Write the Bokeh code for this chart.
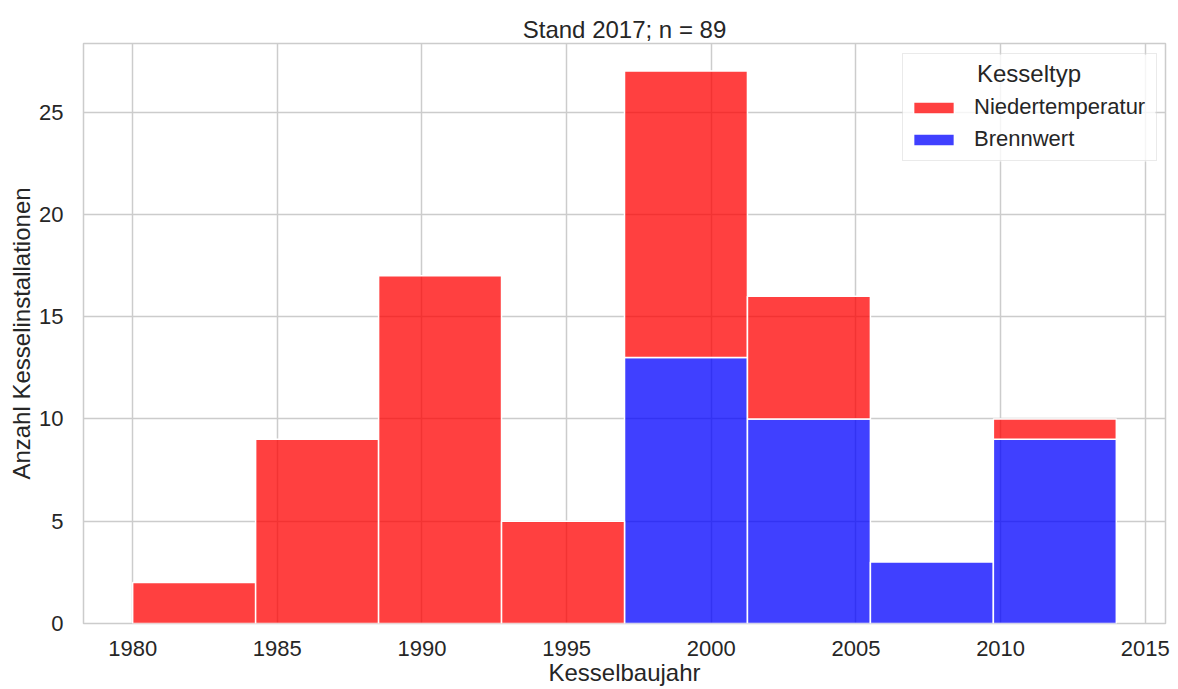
from bokeh.plotting import figure
from bokeh.models import (Range1d, FixedTicker, Legend, LegendItem, ColumnDataSource, Label,
                          BoxAnnotation)
from bokeh.embed import file_html
from bokeh.resources import INLINE

# ---- data ----
bin_edges = [1980.0, 1984.25, 1988.5, 1992.75, 1997.0, 2001.25, 2005.5, 2009.75, 2014.0]
niedertemperatur = [2, 9, 17, 5, 14, 6, 0, 1]
brennwert = [0, 0, 0, 0, 13, 10, 3, 9]
series_names = ["Niedertemperatur", "Brennwert"]
x_ticks = [1980, 1985, 1990, 1995, 2000, 2005, 2010, 2015]
y_ticks = [0, 5, 10, 15, 20, 25]
title_text = "Stand 2017; n = 89"
x_label = "Kesselbaujahr"
y_label = "Anzahl Kesselinstallationen"
legend_title = "Kesseltyp"

FONT = "Liberation Sans"
TXT = "#262626"
GRID = "#cccccc"
RED = "#ff0000"
BLUE = "#0000ff"

W, H = 1170, 689
BL, BR, BT, BB = 83, 5, 43, 66
FW, FH = W - BL - BR, H - BT - BB

span = bin_edges[-1] - bin_edges[0]
totals = [a + b for a, b in zip(niedertemperatur, brennwert)]
x0, x1 = bin_edges[0] - 0.05 * span, bin_edges[-1] + 0.05 * span
y0, y1 = 0, max(totals) * 1.05


def px_to_x(px):
    return x0 + px / FW * (x1 - x0)


def px_to_y(py):
    return y0 + py / FH * (y1 - y0)


p = figure(width=W, height=H, x_range=Range1d(x0, x1), y_range=Range1d(y0, y1),
           output_backend="svg", toolbar_location=None,
           min_border_left=BL, min_border_right=BR, min_border_top=BT, min_border_bottom=BB)

# stacked: Brennwert at bottom, Niedertemperatur on top
bw = dict(left=[], right=[], bottom=[], top=[])
nt = dict(left=[], right=[], bottom=[], top=[])
for l, r, a, b in zip(bin_edges[:-1], bin_edges[1:], niedertemperatur, brennwert):
    if b > 0:
        bw["left"].append(l); bw["right"].append(r); bw["bottom"].append(0); bw["top"].append(b)
    if a > 0:
        nt["left"].append(l); nt["right"].append(r); nt["bottom"].append(b); nt["top"].append(a + b)

r_bw = p.quad(left="left", right="right", bottom="bottom", top="top", source=ColumnDataSource(bw),
              fill_color=BLUE, fill_alpha=0.75, line_color="white", line_width=1.5)
r_nt = p.quad(left="left", right="right", bottom="bottom", top="top", source=ColumnDataSource(nt),
              fill_color=RED, fill_alpha=0.75, line_color="white", line_width=1.5)

# title
p.title.text = title_text
p.title.align = "center"
p.title.text_font = FONT
p.title.text_font_size = "24px"
p.title.text_font_style = "normal"
p.title.text_color = TXT
p.title.standoff = 1

# axes
p.xaxis.ticker = FixedTicker(ticks=x_ticks)
p.yaxis.ticker = FixedTicker(ticks=y_ticks)
p.xaxis.axis_label = x_label
p.yaxis.axis_label = y_label
for ax in (p.xaxis, p.yaxis):
    ax.axis_line_color = None
    ax.major_tick_line_color = None
    ax.minor_tick_line_color = None
    ax.major_tick_out = 0
    ax.major_tick_in = 0
    ax.minor_tick_out = 0
    ax.minor_tick_in = 0
    ax.major_label_text_font = FONT
    ax.major_label_text_font_size = "22px"
    ax.major_label_text_color = TXT
    ax.axis_label_text_font = FONT
    ax.axis_label_text_font_size = "24px"
    ax.axis_label_text_font_style = "normal"
    ax.axis_label_text_color = TXT
p.xaxis.major_label_standoff = 17
p.xaxis.axis_label_standoff = 0
p.yaxis.major_label_standoff = 20
p.yaxis.axis_label_standoff = 1

# grid / frame
p.xgrid.ticker = FixedTicker(ticks=x_ticks)
p.ygrid.ticker = FixedTicker(ticks=y_ticks)
for g in (p.xgrid, p.ygrid):
    g.grid_line_color = GRID
    g.grid_line_width = 1.5
p.outline_line_color = GRID
p.outline_line_width = 1.5
p.background_fill_color = "white"
p.border_fill_color = "white"

# legend box placement (frame pixels)
LEG_LEFT, LEG_BOTTOM, LEG_W, LEG_H = 819, 462, 253, 107

# translucent white legend background (drawn beneath the legend title)
bg = BoxAnnotation(left=px_to_x(LEG_LEFT), right=px_to_x(LEG_LEFT + LEG_W),
                   bottom=px_to_y(LEG_BOTTOM), top=px_to_y(LEG_BOTTOM + LEG_H),
                   fill_color="white", fill_alpha=0.8, line_color=None)
p.add_layout(bg)

legend = Legend(items=[LegendItem(label=series_names[0], renderers=[r_nt]),
                       LegendItem(label=series_names[1], renderers=[r_bw])],
                location=(LEG_LEFT, LEG_BOTTOM))
legend.title = " "
legend.title_text_font = FONT
legend.title_text_font_size = "24px"
legend.title_standoff = 4
legend.label_text_font = FONT
legend.label_text_font_size = "22px"
legend.label_text_color = TXT
legend.glyph_width = 51
legend.glyph_height = 15
legend.label_height = 32
legend.label_width = 177
legend.label_standoff = 15
legend.spacing = 0
legend.padding = 5
legend.border_line_color = "#d6d6d6"
legend.border_line_width = 1.5
legend.background_fill_alpha = 0.0
p.add_layout(legend)

# centered legend title
lt = Label(x=px_to_x(LEG_LEFT + LEG_W / 2), y=px_to_y(FH - 30),
           text=legend_title, text_align="center", text_baseline="middle",
           text_font=FONT, text_font_size="24px", text_color=TXT, level="overlay")
p.add_layout(lt)

open("out.html", "w").write(file_html(p, INLINE))
